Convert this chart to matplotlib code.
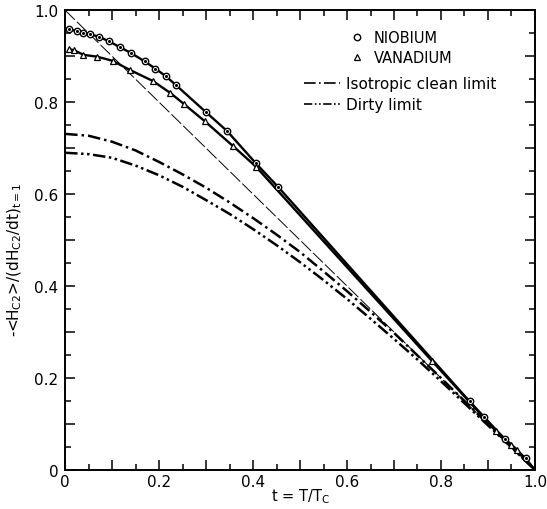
import numpy as np
import matplotlib
matplotlib.use("Agg")
import matplotlib.pyplot as plt
from matplotlib.ticker import MultipleLocator, FuncFormatter
from matplotlib.lines import Line2D

plt.rcParams['font.family'] = ['DejaVu Sans']
plt.rcParams['mathtext.default'] = 'regular'

# niobium data points (circles)
nb_t = [0.0085, 0.025, 0.039, 0.052, 0.073, 0.094, 0.116, 0.140, 0.169, 0.192,
        0.215, 0.235, 0.299, 0.345, 0.406, 0.453, 0.861, 0.892, 0.936, 0.980]
nb_h = [0.959, 0.954, 0.951, 0.948, 0.942, 0.932, 0.920, 0.907, 0.889, 0.873,
        0.856, 0.838, 0.779, 0.737, 0.667, 0.616, 0.149, 0.115, 0.067, 0.025]

# vanadium data points (triangles)
v_t = [0.0085, 0.019, 0.039, 0.068, 0.101, 0.138, 0.187, 0.224, 0.253, 0.298,
       0.358, 0.406, 0.780, 0.918, 0.950, 0.962]
v_h = [0.915, 0.913, 0.903, 0.899, 0.890, 0.870, 0.846, 0.820, 0.796, 0.758,
       0.704, 0.660, 0.238, 0.084, 0.055, 0.044]

# theory curves
th_t = [0.0, 0.05, 0.1, 0.15, 0.2, 0.25, 0.3, 0.35, 0.4, 0.45, 0.5,
        0.55, 0.6, 0.65, 0.7, 0.75, 0.8, 0.85, 0.9, 0.95, 1.0]
clean_h = [0.731, 0.727, 0.714, 0.695, 0.670, 0.643, 0.614, 0.582, 0.548, 0.512, 0.474,
           0.432, 0.389, 0.344, 0.298, 0.249, 0.200, 0.150, 0.100, 0.050, 0.0]
dirty_h = [0.690, 0.687, 0.679, 0.662, 0.641, 0.616, 0.587, 0.557, 0.524, 0.489, 0.452,
           0.413, 0.372, 0.329, 0.285, 0.240, 0.193, 0.145, 0.097, 0.049, 0.0]

# straight reference line
diag_t = [0.0, 1.0]
diag_h = [1.0, 0.0]

fig = plt.figure(figsize=(5.47, 5.10), dpi=100)
ax = fig.add_axes([0.119, 0.0765, 0.859, 0.9015])

ax.plot(diag_t, diag_h, color='black', lw=0.7, dashes=(14, 3))
ax.plot(th_t, clean_h, color='black', lw=1.8, dashes=(5, 1.6, 1, 1.6))
ax.plot(th_t, dirty_h, color='black', lw=1.8, dashes=(5, 1.4, 1, 1.4, 1, 1.4))

ax.plot(nb_t + [1.0], nb_h + [0.0], color='black', lw=1.7)
ax.plot(v_t + [1.0], v_h + [0.0], color='black', lw=1.7)
ax.plot(nb_t, nb_h, ls='none', marker='o', ms=4.6, mfc='white', mec='black', mew=1.0)
ax.plot(nb_t, nb_h, ls='none', marker='o', ms=1.2, color='black')
ax.plot(v_t, v_h, ls='none', marker='^', ms=4.3, mfc='white', mec='black', mew=0.9)

ax.set_xlim(0, 1.0)
ax.set_ylim(0, 1.0)

def lab(v, p):
    if abs(v) < 1e-9:
        return '0'
    if int(round(v * 10)) % 2 == 0:
        return '%.1f' % v
    return ''

for axis in (ax.xaxis, ax.yaxis):
    axis.set_major_locator(MultipleLocator(0.1))
    axis.set_minor_locator(MultipleLocator(0.05))
    axis.set_major_formatter(FuncFormatter(lab))

ax.tick_params(which='major', direction='in', length=7.5, width=1.1,
               top=True, right=True, labelsize=11)
ax.tick_params(which='minor', direction='in', length=4.5, width=1.1, top=True, right=True)
ax.tick_params(axis='x', pad=3)
ax.tick_params(axis='y', pad=5)
for s in ax.spines.values():
    s.set_linewidth(1.4)

ax.set_xlabel(r't = T/T$_C$', fontsize=10.5, labelpad=-2)
ax.set_ylabel(r'-<H$_{C2}$>/(dH$_{C2}$/dt)$_{t=1}$', fontsize=11)
ax.yaxis.set_label_coords(-0.088, 0.46)

h1 = [Line2D([], [], ls='none', marker='o', ms=4.6, mfc='white', mec='black', mew=1.0),
      Line2D([], [], ls='none', marker='^', ms=4.3, mfc='white', mec='black', mew=0.9)]
leg1 = ax.legend(h1, ['NIOBIUM', 'VANADIUM'], loc='upper left', bbox_to_anchor=(0.58, 0.985),
                 frameon=False, fontsize=10.5, handlelength=0.8, handletextpad=0.8,
                 labelspacing=0.35)
ax.add_artist(leg1)
h2 = [Line2D([], [], color='black', lw=1.2, dashes=(7, 2, 1, 2)),
      Line2D([], [], color='black', lw=1.2, dashes=(5, 1.5, 1, 1.5, 1, 1.5))]
ax.legend(h2, ['Isotropic clean limit', 'Dirty limit'], loc='upper left',
          bbox_to_anchor=(0.48, 0.887), frameon=False, fontsize=11,
          handlelength=2.3, handletextpad=0.4, labelspacing=0.4)

fig.savefig('out.png', dpi=100)
